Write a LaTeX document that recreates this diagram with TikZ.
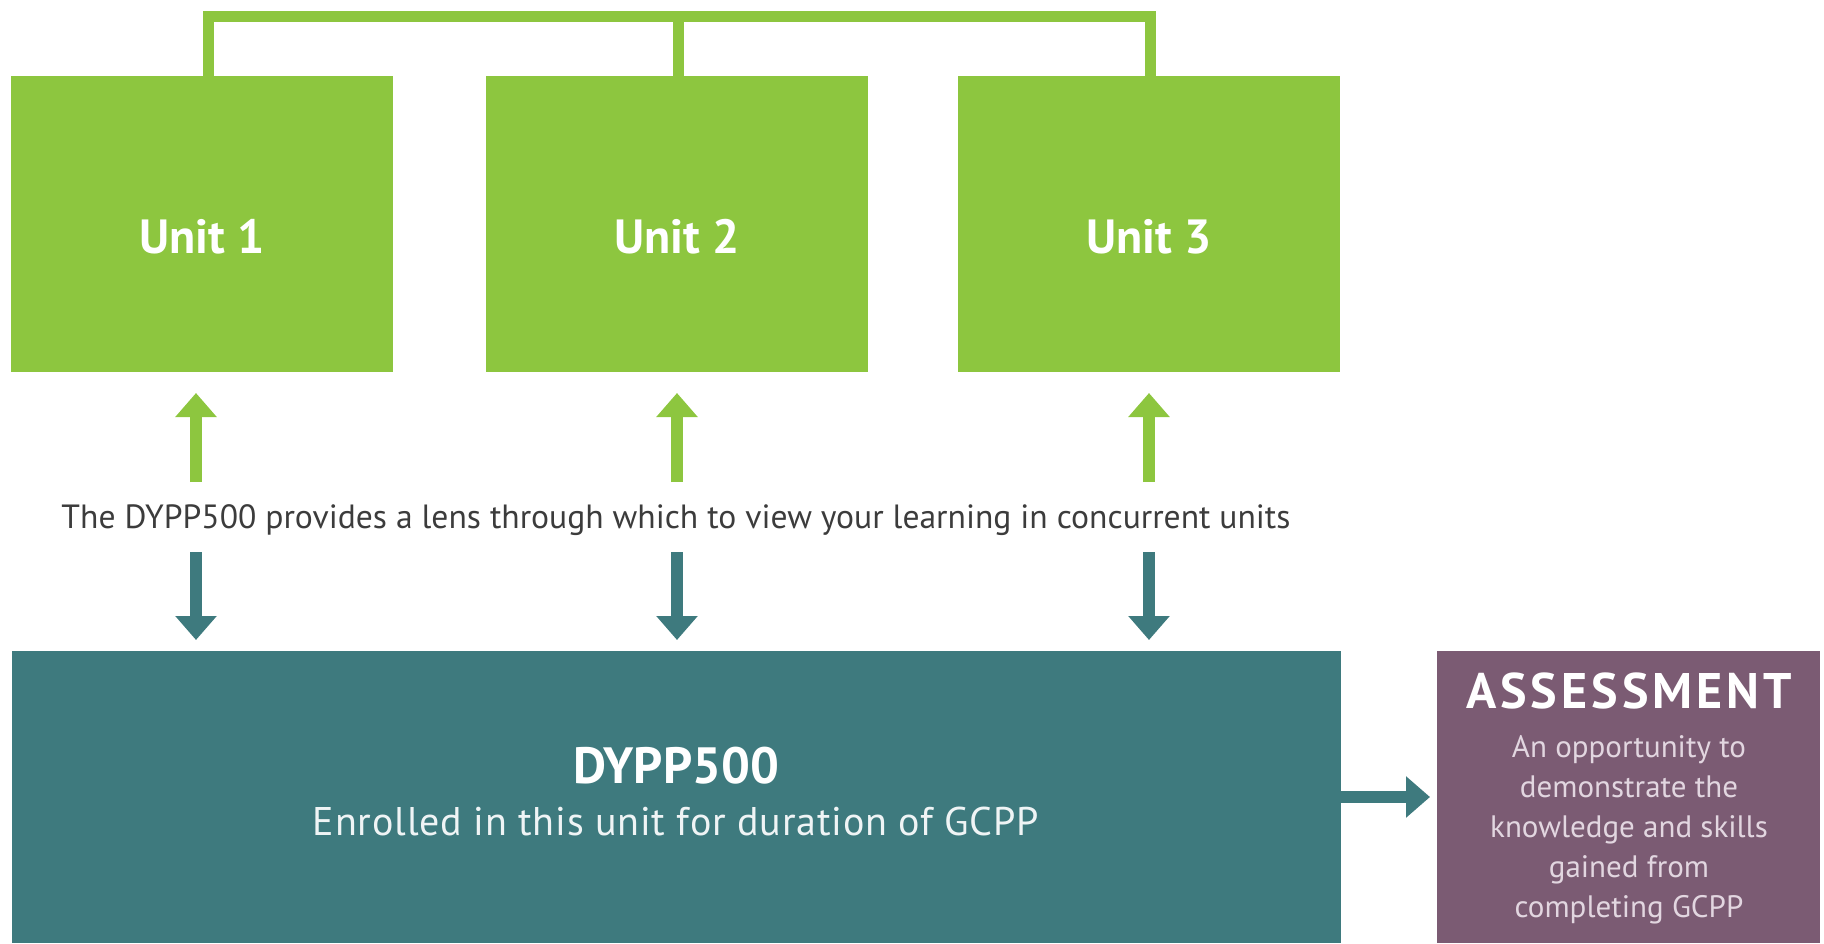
\documentclass[tikz,border=0pt]{standalone}
\usepackage{fontspec}
\setmainfont{PT Sans}
\usepackage{tikz}
\usetikzlibrary{positioning,arrows.meta}

\definecolor{unitgreen}{HTML}{8DC63F}
\definecolor{dyppteal}{HTML}{3E7A7E}
\definecolor{assessplum}{HTML}{7B5B73}
\definecolor{lensgrey}{HTML}{3C3C3C}
\definecolor{plumtext}{HTML}{E2D6E0}

\begin{document}
\begin{tikzpicture} [x=1pt, y=-1pt,
                    unitbox/.style={rectangle,fill=unitgreen,inner sep=0pt,minimum width=382pt,minimum height=296pt},
                    unitlabel/.style={anchor=base,text=white,font=\fontsize{48}{56}\bfseries\selectfont},
                    linkbar/.style={draw=unitgreen,line width=11pt,line join=miter},
                    greenarrow/.style={draw=unitgreen,line width=12pt,-{Triangle[width=40pt,length=24pt]}},
                    tealarrow/.style={draw=dyppteal,line width=12pt,-{Triangle[width=40pt,length=24pt]}}]

\useasboundingbox (0,0) rectangle (1824,943);

% the three units
\node[unitbox] (u1) at (202,224) {};
\node[unitbox] (u2) at (677,224) {};
\node[unitbox] (u3) at (1149,224) {};
\node[unitlabel] (l1) at (202,253) {Unit 1};
\node[unitlabel] (l2) at (677,253) {Unit 2};
\node[unitlabel] (l3) at (1149,253) {Unit 3};

% bar joining the units
\coordinate (t1) at (208,16);
\coordinate (t2) at (678,16);
\coordinate (t3) at (1150,16);
\draw[linkbar] (t1 |- u1.north) -- (t1) -- (t3) -- (t3 |- u3.north);
\draw[linkbar] (t2) -- (t2 |- u2.north);

% lens text
\node[anchor=base,text=lensgrey,font=\fontsize{33.6}{40}\selectfont] (lens) at (676,528)
    {The DYPP500 provides a lens through which to view your learning in concurrent units};

\coordinate (a1) at (196,482); \coordinate (b1) at (196,393);
\coordinate (a2) at (677,482); \coordinate (b2) at (677,393);
\coordinate (a3) at (1149,482); \coordinate (b3) at (1149,393);
\coordinate (c1) at (196,552); \coordinate (d1) at (196,640);
\coordinate (c2) at (677,552); \coordinate (d2) at (677,640);
\coordinate (c3) at (1149,552); \coordinate (d3) at (1149,640);

\draw[greenarrow] (a1) -- (b1);
\draw[greenarrow] (a2) -- (b2);
\draw[greenarrow] (a3) -- (b3);
\draw[tealarrow] (c1) -- (d1);
\draw[tealarrow] (c2) -- (d2);
\draw[tealarrow] (c3) -- (d3);

% DYPP500 box
\node[rectangle,fill=dyppteal,inner sep=0pt,minimum width=1329pt,minimum height=292pt] (dypp) at (676.5,797) {};
\node[anchor=base,text=white,font=\fontsize{51}{60}\bfseries\selectfont] (dypptitle) at (676,783) {DYPP500};
\node[anchor=base,text=white!92!dyppteal,font=\fontsize{40}{48}\addfontfeature{LetterSpace=2}\selectfont] (dyppsub) at (676,835) {Enrolled in this unit for duration of GCPP};

% assessment box
\node[rectangle,fill=assessplum,inner sep=0pt,minimum width=383pt,minimum height=292pt] (assess) at (1628.5,797) {};
\coordinate (tipR) at (1430,797);
\draw[tealarrow] (dypp.east) -- (tipR);

\node[anchor=base,text=white,font=\fontsize{50}{60}\bfseries\addfontfeature{LetterSpace=8}\selectfont] (atitle) at (1629,708) {ASSESSMENT};
\node[anchor=base,text=plumtext,align=center,font=\fontsize{31}{40}\selectfont] (abody) at (1629,917)
    {An opportunity to\\demonstrate the\\knowledge and skills\\gained from\\completing GCPP};
\end{tikzpicture}
\end{document}
